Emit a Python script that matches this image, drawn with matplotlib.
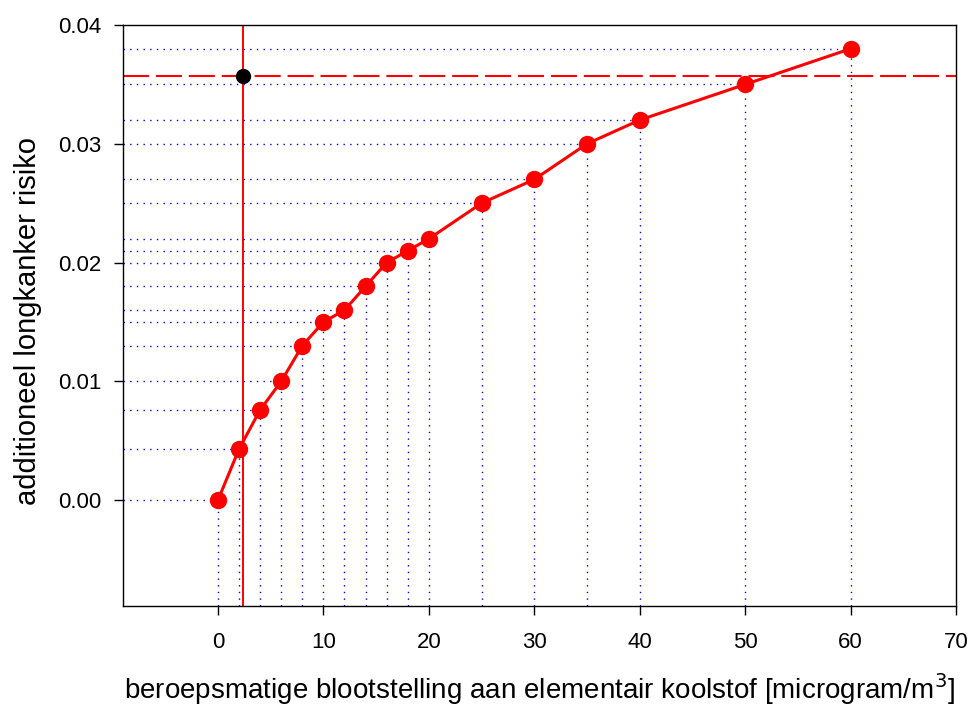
import matplotlib
matplotlib.use('Agg')
import matplotlib.pyplot as plt

plt.rcParams['font.family'] = ['Liberation Sans', 'DejaVu Sans']

# exposure (microgram/m3) and additional lung cancer risk
exposure = [0, 2, 4, 6, 8, 10, 12, 14, 16, 18, 20, 25, 30, 35, 40, 50, 60]
risk = [0.0, 0.0043, 0.0076, 0.0100, 0.0130, 0.0150, 0.0160, 0.0180, 0.0200,
        0.0210, 0.0220, 0.0250, 0.0270, 0.0300, 0.0320, 0.0350, 0.0380]

# marked reference point
ref_x = 2.37
ref_y = 0.0357

x_ticks = [0, 10, 20, 30, 40, 50, 60, 70]
y_ticks = [0.00, 0.01, 0.02, 0.03, 0.04]

fig = plt.figure(figsize=(9.7, 7.06), dpi=100)
ax = fig.add_axes([0.1268, 0.1416, 0.8588, 0.823])

xmin, xmax = -9.0, 70.0
ymin, ymax = -0.0089, 0.04

# dotted guide lines from the axes to each point
dot = (0, (1, 3.8))
for x, y in zip(exposure, risk):
    ax.plot([xmin, x], [y, y], color='#0000dd', linestyle=dot, linewidth=1.0, zorder=1)
    ax.plot([x, x], [ymin, y], color='#0000dd', linestyle=dot, linewidth=1.0, zorder=1)

ax.axvline(ref_x, color='red', linewidth=1.4, zorder=2)
ax.axhline(ref_y, color='red', linewidth=1.5, linestyle=(0, (12.5, 3.3)), zorder=2)

ax.plot(exposure, risk, color='red', linewidth=2.2, marker='o', markersize=11.5,
        markeredgecolor='red', markerfacecolor='red', zorder=3)
ax.plot([ref_x], [ref_y], 'o', color='black', markersize=10, zorder=4)

ax.set_xlim(xmin, xmax)
ax.set_ylim(ymin, ymax)
ax.set_xticks(x_ticks)
ax.set_yticks(y_ticks)
ax.set_yticklabels([f'{v:.2f}' for v in y_ticks])

ax.tick_params(axis='x', direction='out', length=6.5, width=1, pad=12, labelsize=16)
ax.tick_params(axis='y', direction='out', length=6.5, width=1, pad=9, labelsize=16)
for s in ax.spines.values():
    s.set_linewidth(1.0)

ax.set_xlabel('beroepsmatige blootstelling aan elementair koolstof [microgram/m$^3$]',
              fontsize=20)
ax.set_ylabel('additioneel longkanker risiko', fontsize=21)
ax.xaxis.set_label_coords(0.5, -0.112)
ax.yaxis.set_label_coords(-0.097, 0.49)

fig.savefig('out.png', dpi=100)
